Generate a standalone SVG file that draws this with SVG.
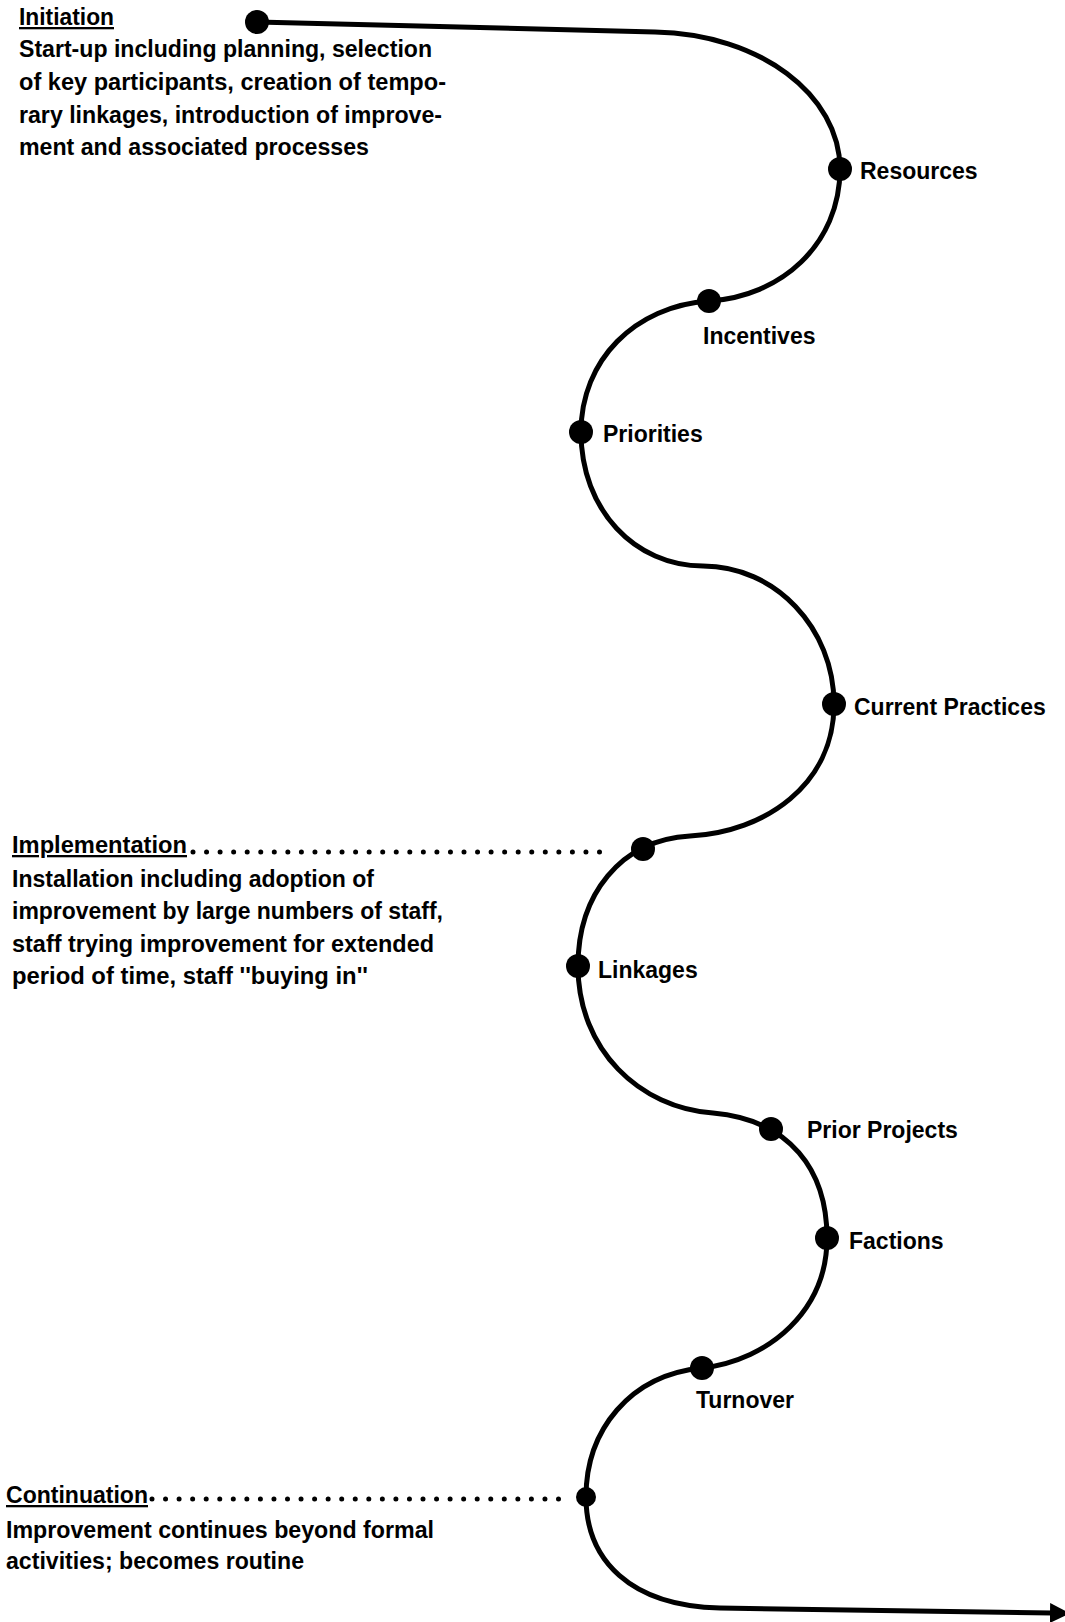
<svg xmlns="http://www.w3.org/2000/svg" width="1065" height="1622" viewBox="0 0 1065 1622">
<style>
text{font-family:"Liberation Sans",Arial,sans-serif;font-weight:bold;font-size:23px;fill:#000}
.u{text-decoration:underline}
.curve{fill:none;stroke:#000;stroke-width:5;stroke-linecap:round}
.dots{fill:none;stroke:#000;stroke-width:5;stroke-linecap:round;stroke-dasharray:0 13.55}
.dot{fill:#000}
</style>
<defs>
<marker id="arr" viewBox="0 0 20 20" refX="2" refY="10" markerWidth="20" markerHeight="20" orient="auto" markerUnits="userSpaceOnUse">
<path d="M0,0 L20,10 L0,20 z" fill="#000"/>
</marker>
</defs>
<rect width="1065" height="1622" fill="#fff"/>
<g id="connectors">
<path class="curve" marker-end="url(#arr)" d="M257,22 L655,32 C760,34 840,95 840,169 C840,245 780,297 709,301 C635,306 581,360 581,432 C581,510 635,566 703,566 C775,566 834,628 834,704 C834,785 765,832 690,836 C620,840 578,895 578,966 C578,1050 640,1108 713,1113 C790,1120 827,1170 827,1238 C827,1310 770,1360 702,1368 C630,1375 586,1430 586,1497 C586,1560 630,1606 720,1608 L1052,1613"/>
<path class="dots" d="M193,852 L613,852"/>
<path class="dots" d="M152,1499 L560,1499"/>
</g>
<g id="initiation">
<circle class="dot" cx="257" cy="22" r="12"/>
<text x="19" y="25" class="u" textLength="95" lengthAdjust="spacingAndGlyphs">Initiation</text>
<text x="19" y="57" textLength="413" lengthAdjust="spacingAndGlyphs">Start-up including planning, selection</text>
<text x="19" y="90" textLength="427" lengthAdjust="spacingAndGlyphs">of key participants, creation of tempo-</text>
<text x="19" y="123" textLength="423" lengthAdjust="spacingAndGlyphs">rary linkages, introduction of improve-</text>
<text x="19" y="155" textLength="350" lengthAdjust="spacingAndGlyphs">ment and associated processes</text>
</g>
<g id="resources"><circle class="dot" cx="840" cy="169" r="12"/><text x="860" y="179">Resources</text></g>
<g id="incentives"><circle class="dot" cx="709" cy="301" r="12"/><text x="703" y="344">Incentives</text></g>
<g id="priorities"><circle class="dot" cx="581" cy="432" r="12"/><text x="603" y="442">Priorities</text></g>
<g id="current-practices"><circle class="dot" cx="834" cy="704" r="12"/><text x="854" y="715">Current Practices</text></g>
<g id="implementation">
<circle class="dot" cx="643" cy="849" r="12"/>
<text x="12" y="853" class="u" textLength="175" lengthAdjust="spacingAndGlyphs">Implementation</text>
<text x="12" y="887" textLength="362" lengthAdjust="spacingAndGlyphs">Installation including adoption of</text>
<text x="12" y="919" textLength="431" lengthAdjust="spacingAndGlyphs">improvement by large numbers of staff,</text>
<text x="12" y="952" textLength="422" lengthAdjust="spacingAndGlyphs">staff trying improvement for extended</text>
<text x="12" y="984" textLength="356" lengthAdjust="spacingAndGlyphs">period of time, staff ''buying in''</text>
</g>
<g id="linkages"><circle class="dot" cx="578" cy="966" r="12"/><text x="598" y="978">Linkages</text></g>
<g id="prior-projects"><circle class="dot" cx="771" cy="1129" r="12"/><text x="807" y="1138">Prior Projects</text></g>
<g id="factions"><circle class="dot" cx="827" cy="1238" r="12"/><text x="849" y="1249">Factions</text></g>
<g id="turnover"><circle class="dot" cx="702" cy="1368" r="12"/><text x="696" y="1408">Turnover</text></g>
<g id="continuation">
<circle class="dot" cx="586" cy="1497" r="10"/>
<text x="6" y="1503" class="u" textLength="142" lengthAdjust="spacingAndGlyphs">Continuation</text>
<text x="6" y="1538" textLength="428" lengthAdjust="spacingAndGlyphs">Improvement continues beyond formal</text>
<text x="6" y="1569" textLength="298" lengthAdjust="spacingAndGlyphs">activities; becomes routine</text>
</g>
</svg>
